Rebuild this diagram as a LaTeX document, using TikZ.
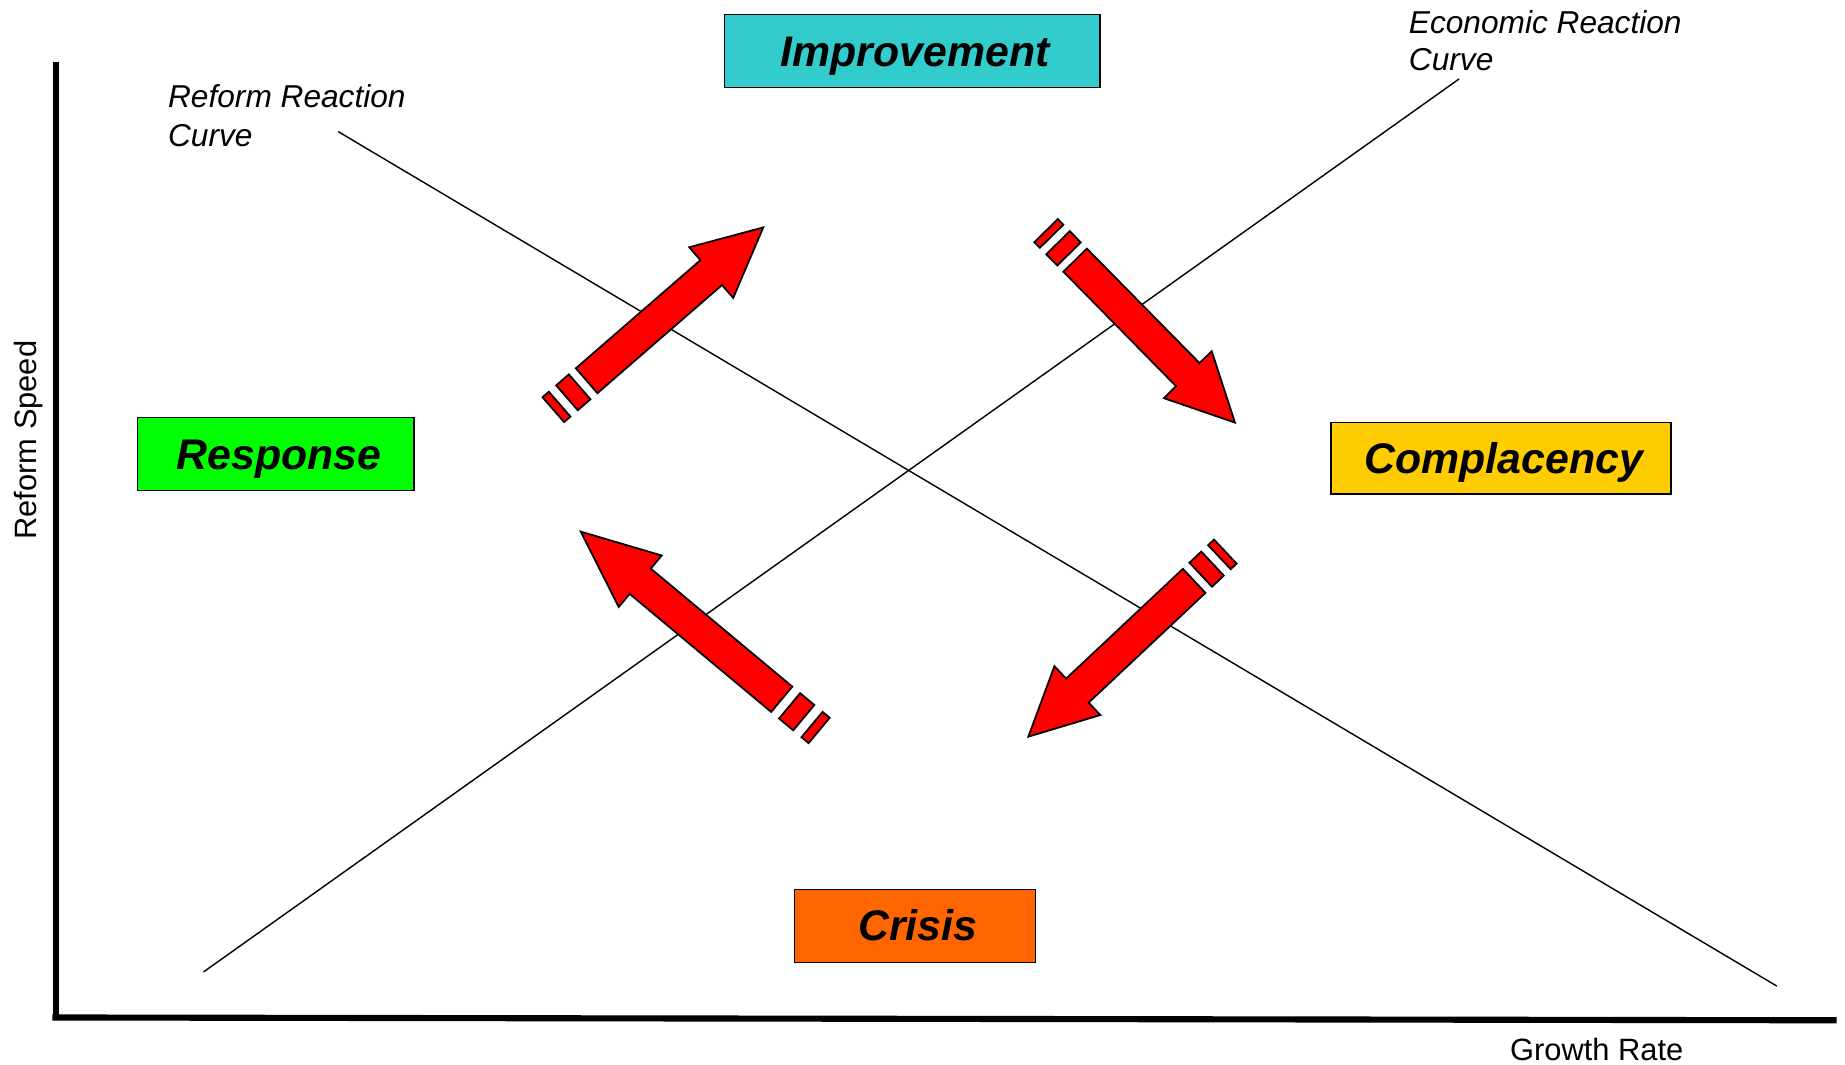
\documentclass[tikz,border=0pt]{standalone}
\usepackage{fontspec}
\setmainfont{Liberation Sans}
\definecolor{impcol}{HTML}{33CCCC}
\definecolor{respcol}{HTML}{00FF00}
\definecolor{compcol}{HTML}{FFCC00}
\definecolor{criscol}{HTML}{FF6600}
\definecolor{arrcol}{HTML}{FF0000}
\tikzset{
  arrowpart/.style={fill=arrcol, draw=black, line width=0.75pt, line join=miter},
  pics/sarrow/.style args={#1/#2/#3}{code={
    \filldraw[arrowpart] (0,-14) -- (0.19*#3,-14) -- (0.19*#3,14) -- (0,14) -- cycle;
    \filldraw[arrowpart] (0.41*#3,-14) -- (0.79*#3,-14) -- (0.79*#3,14) -- (0.41*#3,14) -- cycle;
    \filldraw[arrowpart] (#3,-14) -- (#1-#2,-14) -- (#1-#2,-28.5) -- (#1,0) -- (#1-#2,28.5) -- (#1-#2,14) -- (#3,14) -- cycle;
  }},
  box/.style={draw=black, line width=0.6pt, inner sep=0pt,
    font=\bfseries\itshape\fontsize{18.2}{20}\selectfont,
    text height=12.7pt, text depth=0pt,
    execute at begin node={\hspace*{2.6pt}}},
  curvelabel/.style={inner sep=0pt, anchor=base west, font=\itshape\fontsize{13.45}{16}\selectfont},
  axislabel/.style={inner sep=0pt, font=\fontsize{13.1}{16}\selectfont, text height=9.4pt, text depth=0pt},
  axisline/.style={line width=2.6pt},
  curveline/.style={line width=0.6pt}
}
\begin{document}
\begin{tikzpicture}[x=0.5pt, y=-0.5pt]
\useasboundingbox (0,0) rectangle (1568,905);
% axes
\coordinate (ytop) at (47.3,52.7);
\coordinate (ybot) at (47.3,866);
\coordinate (xl) at (44.5,864.7);
\coordinate (xr) at (1560.9,867.1);
\draw[axisline] (ytop) -- (ybot);
\draw[axisline] (xl) -- (xr);
\node[axislabel, rotate=90] (ys) at (21.5,374) {Reform Speed};
\node[axislabel] (xg) at (1357,891.5) {Growth Rate};
% reaction curves
\coordinate (r1) at (287.5,111.9);
\coordinate (r2) at (1510,838);
\coordinate (e1) at (1240,67.1);
\coordinate (e2) at (173,826);
\draw[curveline] (r1) -- (r2);
\draw[curveline] (e1) -- (e2);
\node[curvelabel] (rl1) at (142.5,91.2) {Reform Reaction};
\node[curvelabel] (rl2) at (142.5,124.1) {Curve};
\node[curvelabel] (el1) at (1197,28.3) {Economic Reaction};
\node[curvelabel] (el2) at (1197,60.3) {Curve};
% boxes
\node[box, fill=impcol, minimum width=159.5pt, minimum height=31pt] (imp) at (775.2,43.4) {Improvement};
\node[box, fill=respcol, minimum width=117.5pt, minimum height=31pt] (resp) at (234.5,386) {Response};
\node[box, fill=compcol, minimum width=144.5pt, minimum height=30.5pt] (comp) at (1275.5,389.5) {Complacency};
\node[box, fill=criscol, minimum width=102.5pt, minimum height=31pt] (cris) at (777.5,787) {Crisis};
% striped arrows
\pic[rotate=40.96] (a1) at (470.25,348.15) {sarrow=236.3/58.6/37.5};
\pic[rotate=-45.47] (a2) at (889.05,196) {sarrow=228.9/57.2/35.2};
\pic[rotate=140.17] (a3) at (696.15,620.8) {sarrow=263.9/65.9/41.4};
\pic[rotate=-136.79] (a4) at (1041.35,468.8) {sarrow=229.7/57.2/36.3};
\end{tikzpicture}
\end{document}
